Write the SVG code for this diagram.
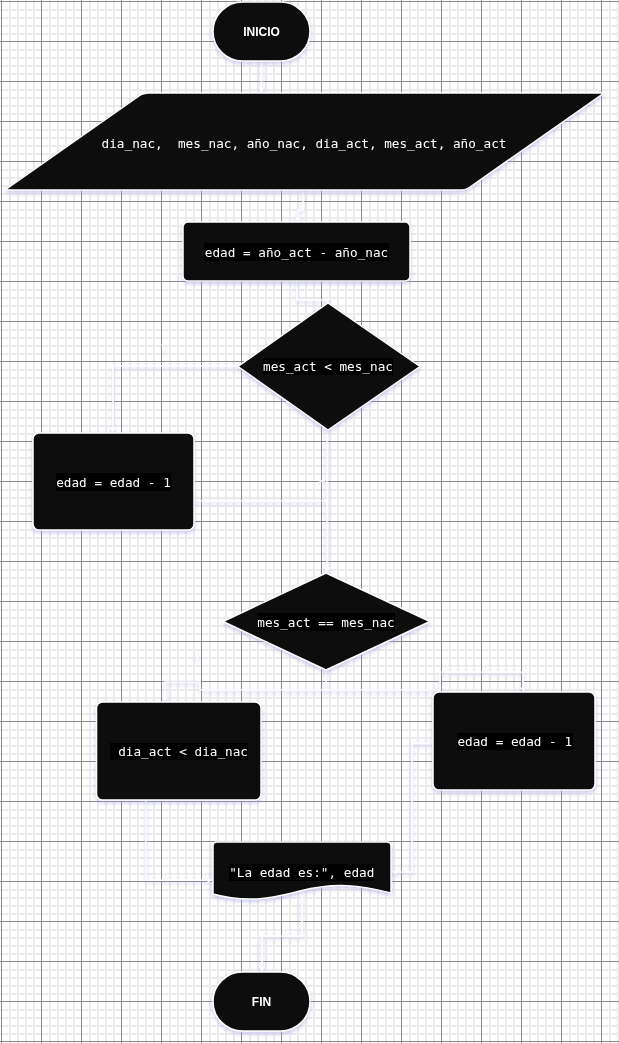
<svg xmlns="http://www.w3.org/2000/svg" width="619" height="1043" viewBox="0 0 619 1043">
  <defs>
    <!-- background grid: 8px minor cells, 40px major cells -->
    <pattern id="grid" patternUnits="userSpaceOnUse" x="1" y="1" width="40" height="40">
      <rect width="40" height="40" fill="#ffffff"/>
      <g fill="#ececec">
        <rect x="8" y="0" width="2" height="40"/>
        <rect x="16" y="0" width="2" height="40"/>
        <rect x="24" y="0" width="2" height="40"/>
        <rect x="32" y="0" width="2" height="40"/>
        <rect x="0" y="8" width="40" height="2"/>
        <rect x="0" y="16" width="40" height="2"/>
        <rect x="0" y="24" width="40" height="2"/>
        <rect x="0" y="32" width="40" height="2"/>
      </g>
      <g fill="#8a8a8a">
        <rect x="0" y="0" width="1" height="40"/>
        <rect x="0" y="0" width="40" height="1"/>
      </g>
    </pattern>
    <filter id="glow" x="-20%" y="-20%" width="140%" height="150%">
      <feGaussianBlur in="SourceAlpha" stdDeviation="2"/>
      <feOffset dx="0" dy="2" result="b"/>
      <feFlood flood-color="#9c9ce0" flood-opacity="0.55"/>
      <feComposite in2="b" operator="in"/>
      <feMerge>
        <feMergeNode/>
        <feMergeNode in="SourceGraphic"/>
      </feMerge>
    </filter>
    <marker id="arrow" viewBox="0 0 8 8" refX="7" refY="4" markerWidth="6" markerHeight="6" markerUnits="userSpaceOnUse" orient="auto">
      <path d="M0,0 L8,4 L0,8 L2,4 Z" fill="#ffffff"/>
    </marker>
    <style>
      .shape { fill: #111111; stroke: #ffffff; stroke-width: 1.5; stroke-linejoin: round; }
      .code { font-family: "DejaVu Sans Mono", "Liberation Mono", monospace; font-size: 12.7px; fill: #ffffff; white-space: pre; }
      .term { font-family: "Liberation Sans", Arial, sans-serif; font-size: 12px; font-weight: bold; fill: #ffffff; }
      .hl { fill: #000000; }
      .edge { fill: none; stroke: #ffffff; stroke-width: 1.5; }
    </style>
  </defs>

  <rect width="619" height="1043" fill="url(#grid)"/>

  <!-- connectors -->
  <g id="connectors" class="edges" filter="url(#glow)">
    <path class="edge" d="M261.5,61 V92" marker-end="url(#arrow)"/>
    <path class="edge" d="M303,190 V210 H298 V222" marker-end="url(#arrow)"/>
    <path class="edge" d="M297,281 V300 H327 V303" marker-end="url(#arrow)"/>
    <path class="edge" d="M238,366 H113 V432" marker-end="url(#arrow)"/>
    <path class="edge" d="M327,430 V572" marker-end="url(#arrow)"/>
    <path class="edge" d="M194,501 H327"/>
    <path class="edge" d="M326,670 V690 H200 V682 H165 V701" marker-end="url(#arrow)"/>
    <path class="edge" d="M326,690 H440 V672 H523 V692" marker-end="url(#arrow)"/>
    <path class="edge" d="M146,800 V880 H212" marker-end="url(#arrow)"/>
    <path class="edge" d="M434,743 H412 V872 H392" marker-end="url(#arrow)"/>
    <path class="edge" d="M302,897 V936 H262 V971" marker-end="url(#arrow)"/>
    <path class="edge" d="M162,344 L164,350"/>
    <path class="edge" d="M196,654 L198,660"/>
    <path class="edge" d="M319,481 H325"/>
  </g>

  <!-- start -->
  <g id="inicio" filter="url(#glow)">
    <rect class="shape" x="213" y="2" width="97" height="59" rx="29.5"/>
    <text class="term" x="261.5" y="36" text-anchor="middle">INICIO</text>
  </g>

  <!-- input data -->
  <g id="entrada" filter="url(#glow)">
    <path class="shape" d="M5,190 L139,96 Q143,93 149,93 L604,93 L470,187 Q466,190 460,190 Z"/>
    <text class="code" x="304" y="147.5" text-anchor="middle">dia_nac,  mes_nac, año_nac, dia_act, mes_act, año_act</text>
  </g>

  <!-- age from years -->
  <g id="calculo-edad" filter="url(#glow)">
    <rect class="shape" x="183" y="222" width="227" height="59" rx="5"/>
    <rect class="hl" x="204" y="243" width="185" height="18"/>
    <text class="code" x="296.5" y="256.5" text-anchor="middle">edad = año_act - año_nac</text>
  </g>

  <!-- month before birthday month -->
  <g id="decision-mes" filter="url(#glow)">
    <path class="shape" d="M328,303 L420,366.5 L328,430 L238,366.5 Z"/>
    <rect class="hl" x="262.5" y="358" width="131" height="17.5"/>
    <text class="code" x="328" y="371" text-anchor="middle">mes_act &lt; mes_nac</text>
  </g>

  <g id="resta-1" filter="url(#glow)">
    <rect class="shape" x="33" y="433" width="161" height="97" rx="6"/>
    <rect class="hl" x="55.5" y="473" width="116" height="18"/>
    <text class="code" x="113.5" y="486.5" text-anchor="middle">edad = edad - 1</text>
  </g>

  <!-- same month -->
  <g id="decision-mes-igual" filter="url(#glow)">
    <path class="shape" d="M326,573 L430,621.5 L326,670 L223,621.5 Z"/>
    <rect class="hl" x="257" y="613" width="138" height="18"/>
    <text class="code" x="326" y="626.5" text-anchor="middle">mes_act == mes_nac</text>
  </g>

  <g id="decision-dia" filter="url(#glow)">
    <rect class="shape" x="96.5" y="702" width="164.5" height="98" rx="6"/>
    <rect class="hl" x="110" y="743" width="138.5" height="17.5"/>
    <text class="code" x="179.25" y="756" text-anchor="middle"> dia_act &lt; dia_nac</text>
  </g>

  <g id="resta-2" filter="url(#glow)">
    <rect class="shape" x="433" y="692" width="162" height="98" rx="6"/>
    <rect class="hl" x="456.5" y="733" width="116.5" height="17.5"/>
    <text class="code" x="514.75" y="746" text-anchor="middle">edad = edad - 1</text>
  </g>

  <!-- printed result -->
  <g id="salida" filter="url(#glow)">
    <path class="shape" d="M217,842 H387 Q391,842 391,846 V893 C360,885 335,882 300,891 C270,899 245,903 213,894 V846 Q213,842 217,842 Z"/>
    <rect class="hl" x="229" y="864" width="145.5" height="17.5"/>
    <text class="code" x="301.75" y="877" text-anchor="middle">"La edad es:", edad</text>
  </g>

  <!-- end -->
  <g id="fin" filter="url(#glow)">
    <rect class="shape" x="213" y="972" width="97" height="59" rx="29.5"/>
    <text class="term" x="261.5" y="1006" text-anchor="middle">FIN</text>
  </g>
</svg>
